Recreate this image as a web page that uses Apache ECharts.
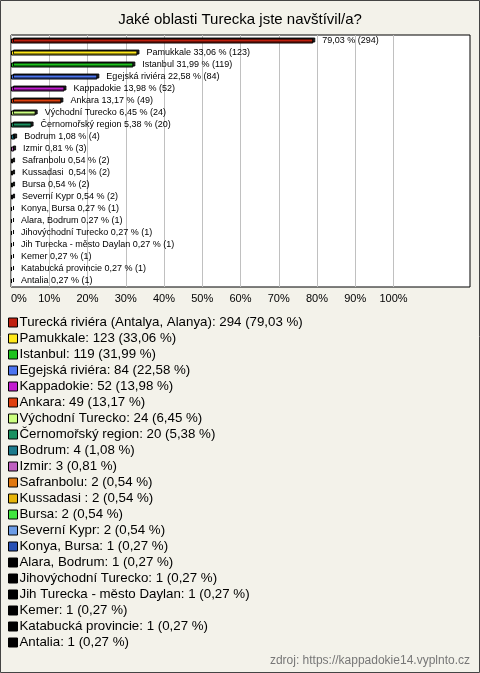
<!DOCTYPE html>
<html>
<head>
<meta charset="utf-8">
<script src="https://cdn.jsdelivr.net/npm/echarts@6/dist/echarts.min.js"></script>
<style>
html,body{margin:0;padding:0;background:#F3F2EA;}
#c{width:480px;height:673px;}
</style>
</head>
<body>
<div id="c"></div>
<script>
var categories = ["Turecká riviéra (Antalya, Alanya)", "Pamukkale", "Istanbul", "Egejská riviéra", "Kappadokie", "Ankara", "Východní Turecko", "Černomořský region", "Bodrum", "Izmir", "Safranbolu", "Kussadasi ", "Bursa", "Severní Kypr", "Konya, Bursa", "Alara, Bodrum", "Jihovýchodní Turecko", "Jih Turecka - město Daylan", "Kemer", "Katabucká provincie", "Antalia"];
var counts = [294, 123, 119, 84, 52, 49, 24, 20, 4, 3, 2, 2, 2, 2, 1, 1, 1, 1, 1, 1, 1];
var percents = [79.03, 33.06, 31.99, 22.58, 13.98, 13.17, 6.45, 5.38, 1.08, 0.81, 0.54, 0.54, 0.54, 0.54, 0.27, 0.27, 0.27, 0.27, 0.27, 0.27, 0.27];
var colors = ["#C0200F", "#FFE81A", "#1DC31D", "#4C74F0", "#C21CD0", "#E0400F", "#CCFF80", "#1A9060", "#1C7A8C", "#C060C0", "#E07810", "#E6B40A", "#40E640", "#6C9CE6", "#2850B4", "#000000", "#000000", "#000000", "#000000", "#000000", "#000000"];
var xTicks = [0, 10, 20, 30, 40, 50, 60, 70, 80, 90, 100];
var titleText = "Jaké oblasti Turecka jste navštívil/a?";
var sourceText = "zdroj: https://kappadokie14.vyplnto.cz";

function fmt(v){ return v.toFixed(2).replace('.', ','); }

var FONT = "'Liberation Sans', Arial, sans-serif";
var series = categories.map(function(name, i){
  var data = categories.map(function(_, j){ return j === i ? percents[i] : '-'; });
  return {
    name: name,
    type: 'bar',
    stack: 'all',
    barWidth: 5,
    data: data,
    itemStyle: {
      color: colors[i],
      borderColor: '#000',
      borderWidth: 1,
      shadowColor: 'rgba(0,0,0,0.85)',
      shadowOffsetX: 2,
      shadowOffsetY: -1,
      shadowBlur: 0
    },
    label: {
      show: true,
      position: 'right',
      distance: 9,
      fontSize: 9,
      fontFamily: FONT,
      color: '#000',
      formatter: function(){
        var nm = i === 0 ? '' : categories[i] + ' ';
        return nm + fmt(percents[i]) + ' % (' + counts[i] + ')';
      }
    }
  };
});

var splitColors = [];
for (var k = 0; k <= 12; k++) splitColors.push(xTicks.indexOf(k*10) >= 0 ? '#C0C0C0' : 'rgba(0,0,0,0)');

var chart = echarts.init(document.getElementById('c'), null, {renderer:'canvas'});
chart.setOption({
  backgroundColor: '#F3F2EA',
  animation: false,
  title: {
    text: titleText,
    left: 'center',
    top: 7,
    textStyle: {fontSize: 15, fontWeight: 'normal', color: '#000', fontFamily: FONT}
  },
  grid: {
    left: 11, right: 10, top: 35, height: 252,
    show: true, backgroundColor: '#FFFFFF', borderColor: '#000', borderWidth: 1
  },
  xAxis: {
    type: 'value', min: 0, max: 120, interval: 10,
    axisLine: {show:false}, axisTick: {show:false},
    splitLine: {show: true, lineStyle: {color: splitColors, width: 1}},
    axisLabel: {
      fontSize: 11, color: '#000', fontFamily: FONT, margin: 6,
      alignMinLabel: 'left',
      formatter: function(v){ return xTicks.indexOf(v) >= 0 ? v + '%' : ''; }
    }
  },
  yAxis: {
    type: 'category', data: categories, inverse: true,
    axisLine: {show:false}, axisTick: {show:false}, axisLabel: {show:false}
  },
  legend: {
    orient: 'vertical',
    left: 8, top: 316, height: 345,
    padding: 0,
    icon: 'rect',
    itemWidth: 9, itemHeight: 9, itemGap: 3,
    selectedMode: false,
    itemStyle: {borderColor: '#000', borderWidth: 1, shadowBlur: 0, shadowOffsetX: 0, shadowOffsetY: 0, shadowColor: 'rgba(0,0,0,0)'},
    textStyle: {fontSize: 13.3, color: '#000', fontFamily: FONT, padding: [0,0,0,-3]},
    formatter: function(name){
      var i = categories.indexOf(name);
      return name + ': ' + counts[i] + ' (' + fmt(percents[i]) + ' %)';
    },
    data: categories
  },
  graphic: [
    {type:'rect', shape:{x:0.5, y:0.5, width:479, height:672}, style:{fill:'none', stroke:'#444', lineWidth:1}, silent:true},
    {type:'text', right: 10, top: 655, style:{text: sourceText, fill:'#777', font: '12px ' + FONT}}
  ],
  series: series
});
</script>
</body>
</html>
